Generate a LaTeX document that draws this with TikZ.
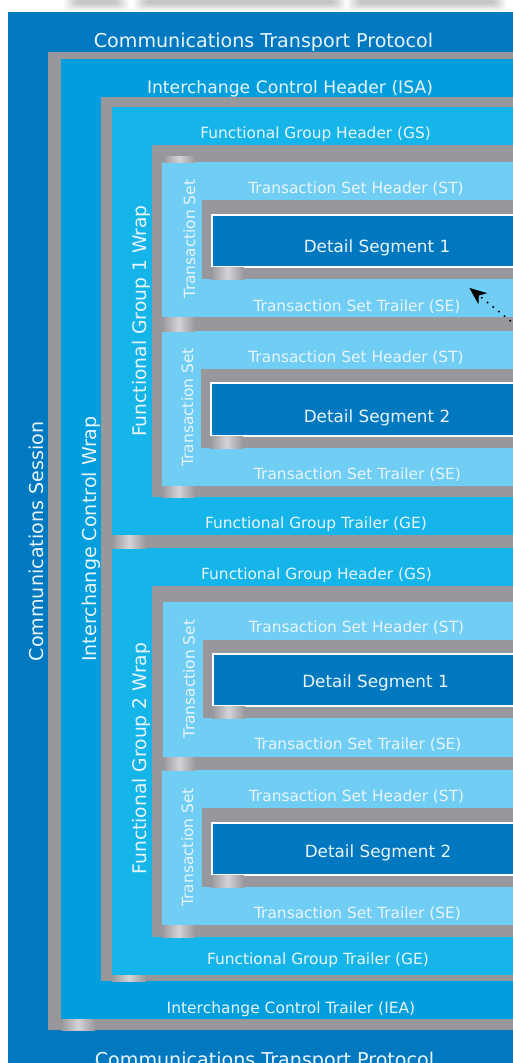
\documentclass[tikz,border=0pt]{standalone}
\usepackage{fontspec}
\setmainfont{DejaVu Sans}
\usetikzlibrary{arrows.meta}
\definecolor{outerblue}{HTML}{0079C1}
\definecolor{icwblue}{HTML}{009EDD}
\definecolor{fgblue}{HTML}{15B5EA}
\definecolor{tsblue}{HTML}{70CDF4}
\definecolor{detblue}{HTML}{0078BF}
\definecolor{framegray}{HTML}{98989C}
\definecolor{shine}{HTML}{D4D4D8}
\definecolor{txt}{HTML}{EAF5FB}
\tikzset{
  lbl/.style={text=txt, inner sep=0pt, anchor=base},
  szTitle/.style={font=\fontsize{19.1}{21}\selectfont},
  szISA/.style={font=\fontsize{17.2}{19}\selectfont},
  szIEA/.style={font=\fontsize{15.5}{17}\selectfont},
  szSmall/.style={font=\fontsize{15.4}{17}\selectfont},
  szDet/.style={font=\fontsize{16.8}{18}\selectfont},
  szWrap/.style={font=\fontsize{18.7}{20}\selectfont},
  vert/.style={rotate=90},
  graybox/.style={fill=framegray},
  detbox/.style={fill=detblue, draw=white, line width=1.2pt},
  shinebar/.style={left color=framegray, right color=framegray, middle color=shine},
  dotarrow/.style={black, line width=2.2pt, dash pattern=on 0pt off 7.3pt, line cap=round,
    -{Stealth[length=17pt,width=14pt,inset=5pt,line width=0.4pt]}}
}
\begin{document}
\begin{tikzpicture}[x=1pt,y=-1pt]
\useasboundingbox (0,0) rectangle (513,1063);
\clip (0,0) rectangle (513,1063);
\fill[white] (0,0) rectangle (513,1063);
% soft blurred shadow at the top
\foreach \a/\b in {70/123,140/340,353/500}{
  \foreach \d in {0,1,...,9}{
    \fill[black, opacity=0.022, rounded corners=4pt] (\a-6+1.4*\d,-7+0.85*\d) rectangle (\b+6-1.4*\d,11-0.85*\d);
  }
}
% outer session
\fill[outerblue] (8,12) rectangle (540,1080);
% interchange wrap
\fill[graybox] (48,52) rectangle (540,1030);
\fill[icwblue] (61,59) rectangle (540,1019);
% functional groups
\fill[graybox] (101,97) rectangle (540,548);
\fill[fgblue] (112,107) rectangle (540,535);
\fill[graybox] (101,535) rectangle (540,981);
\fill[fgblue] (112,548) rectangle (540,975);
% transaction sets, group 1
\fill[graybox] (152,145) rectangle (540,497);
\fill[tsblue] (162,162) rectangle (540,317);
\fill[tsblue] (162,331) rectangle (540,486);
% transaction sets, group 2
\fill[graybox] (152,586) rectangle (540,937);
\fill[tsblue] (163,602) rectangle (540,757);
\fill[tsblue] (162,770) rectangle (540,925);
% detail segments
\fill[graybox] (202,200) rectangle (540,279);
\draw[detbox] (212,215) rectangle (540,267);
\fill[graybox] (201,369) rectangle (540,448);
\draw[detbox] (211,383) rectangle (540,436);
\fill[graybox] (203,640) rectangle (540,718);
\draw[detbox] (213,654) rectangle (540,706);
\fill[graybox] (202,808) rectangle (540,887);
\draw[detbox] (212,823) rectangle (540,875);
% metallic highlights
\foreach \xa/\ya/\xb/\yb in {61/1019/95/1030, 112/975/146/981, 112/535/146/548,
  162/317/195/331, 162/486/195/497, 211/267/244/279, 210/436/243/448,
  163/757/195/770, 162/925/195/937, 212/706/245/718, 211/875/244/887, 163/156/195/162}{
  \shade[shinebar] (\xa,\ya) rectangle (\xb,\yb);
}
% horizontal labels
\node[lbl,szTitle] (ctpTop) at (263.5,47) {Communications Transport Protocol};
\node[lbl,szISA] (isa) at (290,93) {Interchange Control Header (ISA)};
\node[lbl,szSmall] (gsA) at (315.6,138) {Functional Group Header (GS)};
\node[lbl,szSmall] (stA1) at (356,193) {Transaction Set Header (ST)};
\node[lbl,szDet] (detA1) at (377,252) {Detail Segment 1};
\node[lbl,szSmall] (seA1) at (357,311) {Transaction Set Trailer (SE)};
\node[lbl,szSmall] (stA2) at (356,362) {Transaction Set Header (ST)};
\node[lbl,szDet] (detA2) at (377,422) {Detail Segment 2};
\node[lbl,szSmall] (seA2) at (357.5,479) {Transaction Set Trailer (SE)};
\node[lbl,szSmall] (geA) at (316,528) {Functional Group Trailer (GE)};
\node[lbl,szSmall] (gsB) at (316.5,579) {Functional Group Header (GS)};
\node[lbl,szSmall] (stB1) at (356.5,632) {Transaction Set Header (ST)};
\node[lbl,szDet] (detB1) at (375.5,687) {Detail Segment 1};
\node[lbl,szSmall] (seB1) at (358,749) {Transaction Set Trailer (SE)};
\node[lbl,szSmall] (stB2) at (356.5,801) {Transaction Set Header (ST)};
\node[lbl,szDet] (detB2) at (378,857) {Detail Segment 2};
\node[lbl,szSmall] (seB2) at (357.5,918) {Transaction Set Trailer (SE)};
\node[lbl,szSmall] (geB) at (318,964) {Functional Group Trailer (GE)};
\node[lbl,szIEA] (iea) at (291,1013) {Interchange Control Trailer (IEA)};
\node[lbl,szTitle] (ctpBot) at (264.5,1066) {Communications Transport Protocol};
% vertical labels
\node[lbl,szTitle,vert] (session) at (43.3,541.5) {Communications Session};
\node[lbl,szTitle,vert] (icw) at (96.5,539) {Interchange Control Wrap};
\node[lbl,szWrap,vert] (fgwA) at (146.7,321) {Functional Group 1 Wrap};
\node[lbl,szWrap,vert] (fgwB) at (146.7,758.5) {Functional Group 2 Wrap};
\node[lbl,szSmall,vert] (tsA1) at (195,239) {Transaction Set};
\node[lbl,szSmall,vert] (tsA2) at (193,407.5) {Transaction Set};
\node[lbl,szSmall,vert] (tsB1) at (194.5,679) {Transaction Set};
\node[lbl,szSmall,vert] (tsB2) at (193,847.5) {Transaction Set};
% pointer arrow
\coordinate (arrowfrom) at (533,339);
\coordinate (arrowto) at (469.5,288);
\draw[dotarrow] (arrowfrom) -- (arrowto);
\end{tikzpicture}
\end{document}
